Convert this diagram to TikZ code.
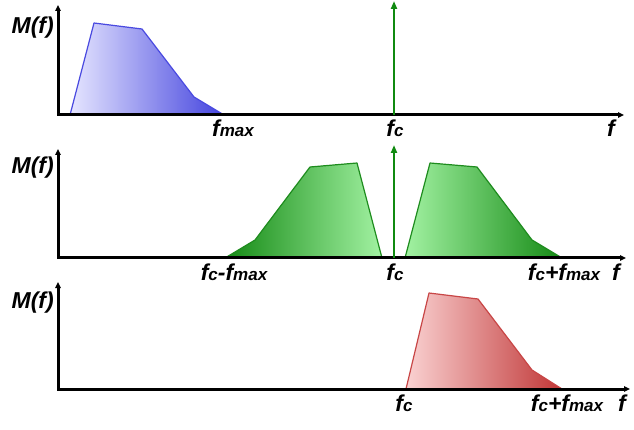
\documentclass[tikz,border=0pt]{standalone}
\usepackage{fontspec}
\setsansfont{Liberation Sans}
\usetikzlibrary{arrows.meta}

\definecolor{edgeblue}{HTML}{4A4AE0}
\definecolor{lightblue}{HTML}{E6E6FF}
\definecolor{darkblue}{HTML}{4444DE}
\definecolor{edgegreen}{HTML}{1E8C1E}
\definecolor{darkgreen}{HTML}{158A15}
\definecolor{lightgreen}{HTML}{A2F2A2}
\definecolor{edgered}{HTML}{C84646}
\definecolor{lightred}{HTML}{FAD2D2}
\definecolor{darkred}{HTML}{C03636}
\definecolor{carrier}{HTML}{108A10}

% f with a smaller index on the same baseline
\newcommand{\fsub}[1]{f{\fontsize{17}{20}\selectfont #1}}

\begin{document}
\begin{tikzpicture}[
  x=1pt, y=-1pt,
  axis/.style={line width=3pt, {Triangle[length=6pt,width=5.5pt]}-{Triangle[length=6pt,width=5.5pt]}},
  carrierline/.style={draw=carrier, line width=2pt, -{Triangle[length=8pt,width=6pt]}},
  band/.style={line width=1.2pt, line join=round},
  lab/.style={font=\sffamily\bfseries\itshape\fontsize{23}{27}\selectfont, inner sep=0pt, anchor=base},
  ylab/.style={lab, anchor=base east}
]
  \useasboundingbox (0,0) rectangle (634,430);

  % message spectrum
  \path[band, draw=edgeblue, left color=lightblue, right color=darkblue]
    (70,115) -- (94,23) -- (142,29) -- (194,97) -- (224,115) -- cycle;
  % DSB spectrum
  \path[band, draw=edgegreen, left color=darkgreen, right color=lightgreen]
    (225,258) -- (255,240) -- (310,167) -- (357,163) -- (382,258) -- cycle;
  \path[band, draw=edgegreen, left color=lightgreen, right color=darkgreen]
    (405,258) -- (430,163) -- (477,167) -- (532,240) -- (562,258) -- cycle;
  % SSB spectrum
  \path[band, draw=edgered, left color=lightred, right color=darkred]
    (406,389) -- (429,293) -- (478,299) -- (532,370) -- (562,389) -- cycle;

  % axes
  \draw[axis] (58,5) -- (58,115) -- (624,115);
  \draw[axis] (58,149) -- (58,258) -- (626,258);
  \draw[axis] (58,282) -- (58,389) -- (630,389);

  % carriers
  \draw[carrierline] (394,115) -- (394,1);
  \draw[carrierline] (394,258) -- (394,145);

  % labels
  \node[ylab] (m1) at (54,34) {M(f)};
  \node[ylab] (m2) at (54,174) {M(f)};
  \node[ylab] (m3) at (54,308) {M(f)};

  \node[lab] (fmax) at (233,137) {\fsub{max}};
  \node[lab] (fc1) at (395,137) {\fsub{c}};
  \node[lab] (f1) at (611,137) {f};

  \node[lab] (lsb) at (234,280) {\fsub{c}-\fsub{max}};
  \node[lab] (fc2) at (395,280) {\fsub{c}};
  \node[lab] (usb) at (564,280) {\fsub{c}+\fsub{max}};
  \node[lab] (f2) at (616,280) {f};

  \node[lab] (fc3) at (404,411) {\fsub{c}};
  \node[lab] (usb3) at (567,411) {\fsub{c}+\fsub{max}};
  \node[lab] (f3) at (622,411) {f};
\end{tikzpicture}
\end{document}
